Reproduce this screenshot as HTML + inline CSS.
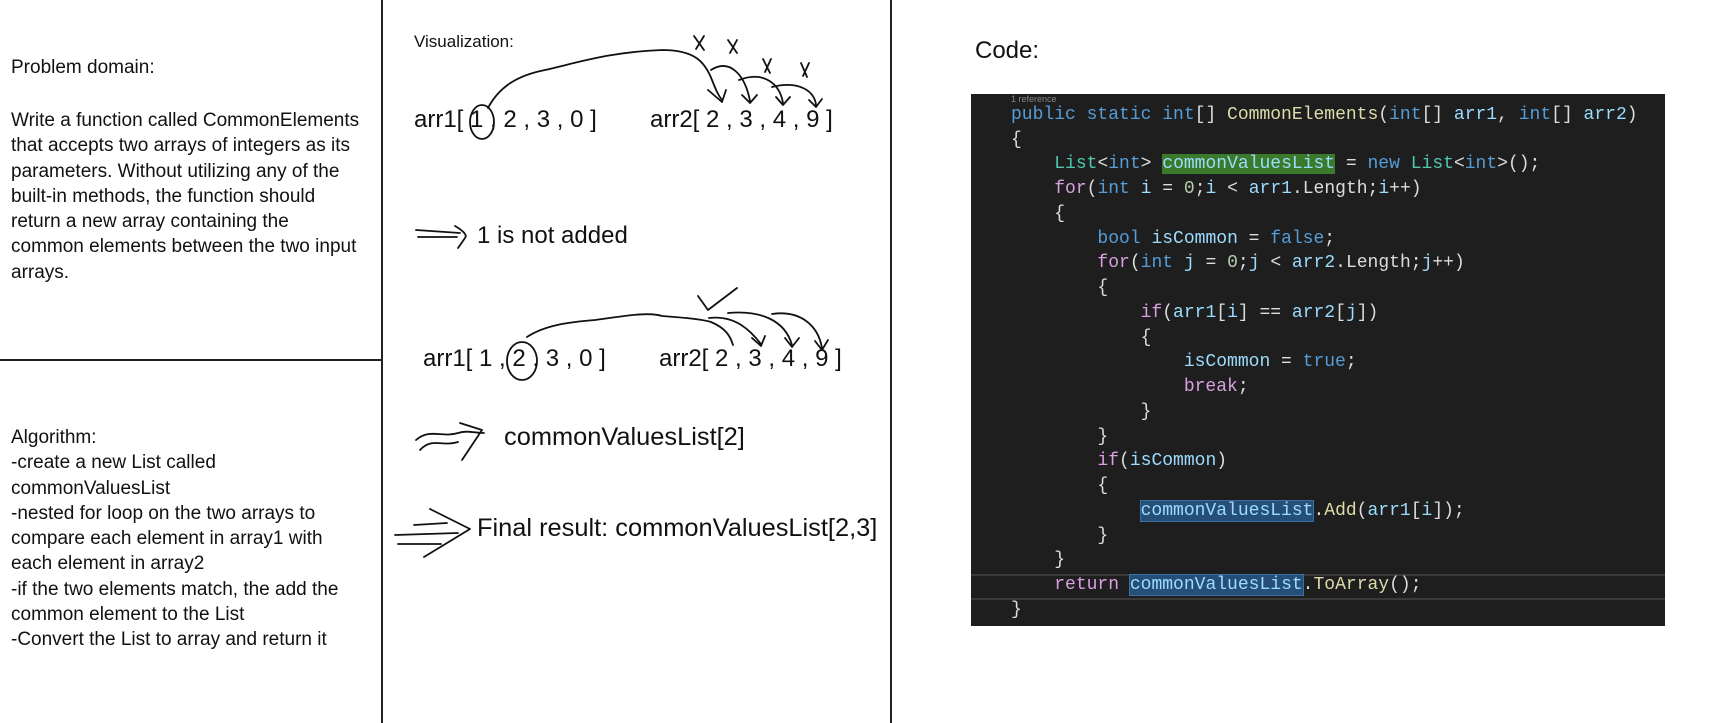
<!DOCTYPE html>
<html><head><meta charset="utf-8"><style>
*{margin:0;padding:0;box-sizing:border-box}
body{width:1729px;height:723px;background:#fff;position:relative;overflow:hidden;font-family:"Liberation Sans",sans-serif;color:#111}
.t{position:absolute;white-space:nowrap}
.p{font-size:19px;line-height:25.3px}
.code{position:absolute;left:971px;top:94px;width:694px;height:532px;background:#1e1e1e;font-family:"Liberation Mono",monospace;font-size:18px;overflow:hidden}
.ln{position:absolute;left:40px;white-space:pre;color:#dcdcdc;line-height:25px;height:25px}
.k{color:#569cd6}.c{color:#d8a0df}.ty{color:#4ec9b0}.m{color:#dcdcaa}.v{color:#9cdcfe}.n{color:#b5cea8}
.hl{background:#264f78;outline:1px solid #3b6ea5}.hg{background:#3a7a2a}
</style></head><body>
<div style="position:absolute;left:381px;top:0;width:2px;height:723px;background:#222"></div>
<div style="position:absolute;left:890px;top:0;width:2px;height:723px;background:#222"></div>
<div style="position:absolute;left:0;top:359px;width:382px;height:2px;background:#222"></div>

<div class="t p" style="left:11px;top:55px">Problem domain:</div>
<div class="t p" style="left:11px;top:108px">Write a function called CommonElements<br>that accepts two arrays of integers as its<br>parameters. Without utilizing any of the<br>built-in methods, the function should<br>return a new array containing the<br>common elements between the two input<br>arrays.</div>
<div class="t p" style="left:11px;top:425px">Algorithm:<br>-create a new List called<br>commonValuesList<br>-nested for loop on the two arrays to<br>compare each element in array1 with<br>each element in array2<br>-if the two elements match, the add the<br>common element to the List<br>-Convert the List to array and return it</div>

<div class="t" style="left:414px;top:32px;font-size:17px">Visualization:</div>
<div class="t" style="left:414px;top:106px;font-size:24px">arr1[ 1 , 2 , 3 , 0 ]</div>
<div class="t" style="left:650px;top:106px;font-size:24px">arr2[ 2 , 3 , 4 , 9 ]</div>
<div class="t" style="left:477px;top:222px;font-size:24px">1 is not added</div>
<div class="t" style="left:423px;top:345px;font-size:24px">arr1[ 1 , 2 , 3 , 0 ]</div>
<div class="t" style="left:659px;top:345px;font-size:24px">arr2[ 2 , 3 , 4 , 9 ]</div>
<div class="t" style="left:504px;top:423px;font-size:25.4px">commonValuesList[2]</div>
<div class="t" style="left:477px;top:514px;font-size:25.4px">Final result: commonValuesList[2,3]</div>
<div class="t" style="left:975px;top:37px;font-size:24px">Code:</div>

<svg width="1729" height="723" style="position:absolute;left:0;top:0" fill="none" stroke="#111" stroke-width="1.8" stroke-linecap="round" stroke-linejoin="round">
<path d="M488 108 C500 85 520 75 545 70 C580 62 610 52 662 50 C695 50 705 62 712 80 C716 90 718 95 722 100"/>
<path d="M708 90 L722 102 L726 90"/>
<ellipse cx="482" cy="122" rx="12" ry="17"/>
<path d="M711 70 C730 58 745 75 750 101 M742 95 L750 103 L757 95"/>
<path d="M739 80 C765 70 780 85 783 103 M776 97 L783 105 L790 97"/>
<path d="M772 87 C800 80 815 92 816 105 M809 100 L816 107 L822 99"/>
<path d="M694 36 L704 50 M704 36 L696 49"/><path d="M728 40 L737 53 M737 40 L730 53"/><path d="M763 59 L770 73 M771 59 L765 72"/><path d="M801 63 L807 77 M809 63 L803 76"/>
<path d="M416 230 L460 233 M418 237 L457 237 M455 226 C462 230 468 235 465 238 L458 248"/>
<path d="M527 337 C545 325 570 322 595 320 C630 315 650 312 662 316 C690 318 705 320 711 322 C725 328 730 335 733 345"/>
<ellipse cx="522" cy="361" rx="15" ry="19"/>
<path d="M698 296 L708 310 L737 288"/>
<path d="M709 318 C735 315 750 330 761 344 M752 338 L761 346 L765 336"/>
<path d="M728 313 C760 310 785 320 792 345 M785 338 L792 347 L799 338"/>
<path d="M772 314 C800 310 818 325 822 348 M815 341 L822 350 L828 340"/>
<path d="M416 440 C430 428 442 438 458 433 C467 430 474 433 484 433 M420 450 C432 437 442 447 458 442 M460 423 L482 430 L462 460"/>
<path d="M395 535 L458 533 M398 544 L441 544 M414 525 L447 523 M430 509 L470 529 L424 557"/>
</svg>

<div class="code">
<div class="t" style="left:40px;top:0px;font-size:9px;color:#888;font-family:'Liberation Sans',sans-serif">1 reference</div>
<div style="position:absolute;left:0;top:480px;width:694px;height:26px;border-top:2px solid #3a3a3a;border-bottom:2px solid #3a3a3a"></div>
<div class="ln" style="top:9px"><span class="k">public static int</span>[] <span class="m">CommonElements</span>(<span class="k">int</span>[] <span class="v">arr1</span>, <span class="k">int</span>[] <span class="v">arr2</span>)</div>
<div class="ln" style="top:34px">{</div>
<div class="ln" style="top:58px">    <span class="ty">List</span>&lt;<span class="k">int</span>&gt; <span class="v hg">commonValuesList</span> = <span class="k">new</span> <span class="ty">List</span>&lt;<span class="k">int</span>&gt;();</div>
<div class="ln" style="top:83px">    <span class="c">for</span>(<span class="k">int</span> <span class="v">i</span> = <span class="n">0</span>;<span class="v">i</span> &lt; <span class="v">arr1</span>.Length;<span class="v">i</span>++)</div>
<div class="ln" style="top:108px">    {</div>
<div class="ln" style="top:133px">        <span class="k">bool</span> <span class="v">isCommon</span> = <span class="k">false</span>;</div>
<div class="ln" style="top:157px">        <span class="c">for</span>(<span class="k">int</span> <span class="v">j</span> = <span class="n">0</span>;<span class="v">j</span> &lt; <span class="v">arr2</span>.Length;<span class="v">j</span>++)</div>
<div class="ln" style="top:182px">        {</div>
<div class="ln" style="top:207px">            <span class="c">if</span>(<span class="v">arr1</span>[<span class="v">i</span>] == <span class="v">arr2</span>[<span class="v">j</span>])</div>
<div class="ln" style="top:232px">            {</div>
<div class="ln" style="top:256px">                <span class="v">isCommon</span> = <span class="k">true</span>;</div>
<div class="ln" style="top:281px">                <span class="c">break</span>;</div>
<div class="ln" style="top:306px">            }</div>
<div class="ln" style="top:331px">        }</div>
<div class="ln" style="top:355px">        <span class="c">if</span>(<span class="v">isCommon</span>)</div>
<div class="ln" style="top:380px">        {</div>
<div class="ln" style="top:405px">            <span class="v hl">commonValuesList</span>.<span class="m">Add</span>(<span class="v">arr1</span>[<span class="v">i</span>]);</div>
<div class="ln" style="top:430px">        }</div>
<div class="ln" style="top:454px">    }</div>
<div class="ln" style="top:479px">    <span class="c">return</span> <span class="v hl">commonValuesList</span>.<span class="m">ToArray</span>();</div>
<div class="ln" style="top:504px">}</div>
</div>
</body></html>
